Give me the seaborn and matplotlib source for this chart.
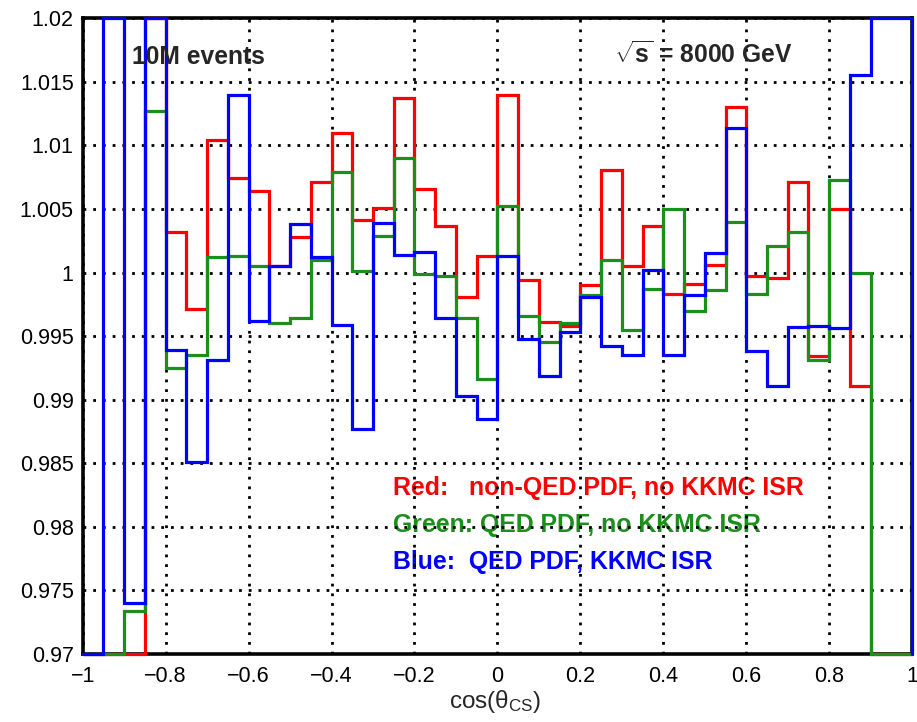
import numpy as np
import pandas as pd
import matplotlib
matplotlib.use("Agg")
import matplotlib.pyplot as plt
import seaborn as sns
from matplotlib.ticker import MultipleLocator, FuncFormatter, FixedLocator

# ---------------- data (ratio per bin of cos(theta_CS), 40 bins from -1 to 1) ----------
x_range = (-1.0, 1.0)
n_bins = 40

# values outside the plotted window are rough estimates (drawn clipped to the frame)
red_vals = [0.960, 0.960, 0.969, 1.030, 1.0032, 0.9971, 1.0104, 1.0074, 1.0064, 1.0005,
            1.0028, 1.0071, 1.0110, 1.0041, 1.0051, 1.0137, 1.0066, 1.0037, 0.9981, 1.0013,
            1.0140, 0.9994, 0.9961, 0.9958, 0.9990, 1.0081, 1.0005, 1.0037, 0.9983, 0.9991,
            1.0006, 1.0130, 0.9997, 0.9996, 1.0071, 0.9934, 1.0050, 0.9911, 0.960, 0.960]
green_vals = [0.960, 0.960, 0.9734, 1.0127, 0.9925, 0.9935, 1.0012, 1.0013, 1.0005, 0.9960,
              0.9964, 1.0010, 1.0079, 1.0001, 1.0029, 1.0090, 0.9999, 0.9997, 0.9964, 0.9916,
              1.0052, 0.9966, 0.9945, 0.9960, 0.9982, 1.0010, 0.9955, 0.9987, 1.0050, 0.9970,
              0.9986, 1.0040, 0.9983, 1.0021, 1.0032, 0.9931, 1.0073, 1.0000, 0.960, 0.960]
blue_vals = [0.960, 1.030, 0.9740, 1.030, 0.9939, 0.9851, 0.9931, 1.0140, 0.9962, 1.0005,
             1.0038, 1.0012, 0.9959, 0.9877, 1.0039, 1.0014, 1.0016, 0.9964, 0.9903, 0.9885,
             1.0013, 0.9948, 0.9919, 0.9953, 0.9981, 0.9942, 0.9935, 1.0002, 0.9935, 0.9982,
             1.0015, 1.0114, 0.9938, 0.9911, 0.9957, 0.9958, 0.9956, 1.0155, 1.030, 1.030]

series_names = ["Red", "Green", "Blue"]
series_colors = ["#ff0000", "#1a8f1a", "#0000ff"]
legend_texts = ["Red:   non-QED PDF, no KKMC ISR",
                "Green: QED PDF, no KKMC ISR",
                "Blue:  QED PDF, KKMC ISR"]

x_ticks = [-1.0, -0.8, -0.6, -0.4, -0.2, 0.0, 0.2, 0.4, 0.6, 0.8, 1.0]
y_ticks = [0.97, 0.975, 0.98, 0.985, 0.99, 0.995, 1.0, 1.005, 1.01, 1.015, 1.02]
y_range = (0.97, 1.02)

x_label = r"cos(θ$_{\mathrm{CS}}$)"
text_events = "10M events"
text_energy = r"$\sqrt{\mathbf{s}}$ = 8000 GeV"

# ---------------- style ----------------
sns.set_style("white")
plt.rcParams["font.family"] = ["Liberation Sans", "DejaVu Sans"]
plt.rcParams["mathtext.fontset"] = "custom"
plt.rcParams["mathtext.rm"] = "Liberation Sans"
plt.rcParams["mathtext.bf"] = "Liberation Sans:bold"
plt.rcParams["mathtext.it"] = "Liberation Sans:italic"
plt.rcParams["mathtext.sf"] = "Liberation Sans"

fig = plt.figure(figsize=(9.17, 7.22), dpi=100)
ax = fig.add_axes([0.0902, 0.0942, 0.9045, 0.8805])

edges = np.linspace(x_range[0], x_range[1], n_bins + 1)
lo, hi = y_range


def step_frame(vals):
    v = np.clip(np.asarray(vals, dtype=float), lo, hi)
    xs = np.repeat(edges, 2)
    ys = np.concatenate([[lo], np.repeat(v, 2), [lo]])
    return pd.DataFrame({"x": xs, "y": ys})


for vals, col in zip([red_vals, green_vals, blue_vals], series_colors):
    sns.lineplot(data=step_frame(vals), x="x", y="y", sort=False, estimator=None,
                 color=col, linewidth=2.3, ax=ax, zorder=3, clip_on=False,
                 solid_joinstyle="miter")

ax.set_xlim(*x_range)
ax.set_ylim(*y_range)

fmt = FuncFormatter(lambda v, p: f"{round(v, 6) + 0.0:g}".replace("-", "\u2212"))
ax.xaxis.set_major_locator(FixedLocator(x_ticks))
ax.yaxis.set_major_locator(FixedLocator(y_ticks))
ax.xaxis.set_minor_locator(MultipleLocator(0.05))
ax.yaxis.set_minor_locator(MultipleLocator(0.001))
ax.xaxis.set_major_formatter(fmt)
ax.yaxis.set_major_formatter(fmt)

ax.tick_params(axis="both", which="both", direction="in", width=2.0, colors="black",
               top=False, right=False, labelsize=15.5)
ax.tick_params(axis="x", which="major", length=12, pad=9)
ax.tick_params(axis="x", which="minor", length=6.5)
ax.tick_params(axis="y", which="major", length=11, pad=6.5)
ax.tick_params(axis="y", which="minor", length=8.5)

for s in ax.spines.values():
    s.set_color("black")
    s.set_linewidth(2.6)

ax.set_axisbelow("line")
ax.grid(True, which="major", color="black", linewidth=2.0, linestyle=(0, (1, 2.5)))

ax.set_xlabel("")
ax.set_ylabel("")
fig.text(0.5 * (0.0902 + 0.9947) - 0.003, 0.0194, x_label, ha="center", va="baseline",
         fontsize=17.5)

fig.text(0.1436, 0.9114, text_events, ha="left", va="baseline", fontsize=17.7,
         fontweight="bold", zorder=1)
fig.text(0.8645, 0.9123, text_energy, ha="right", va="baseline", fontsize=17.7,
         fontweight="bold", zorder=1)

for txt, col, yb in zip(legend_texts, series_colors, [0.3144, 0.2632, 0.2119]):
    ax.text(0.4289, yb, txt, transform=fig.transFigure, ha="left", va="baseline",
            fontsize=17.9, fontweight="bold", color=col, zorder=1)

fig.savefig("out.png", dpi=100)
